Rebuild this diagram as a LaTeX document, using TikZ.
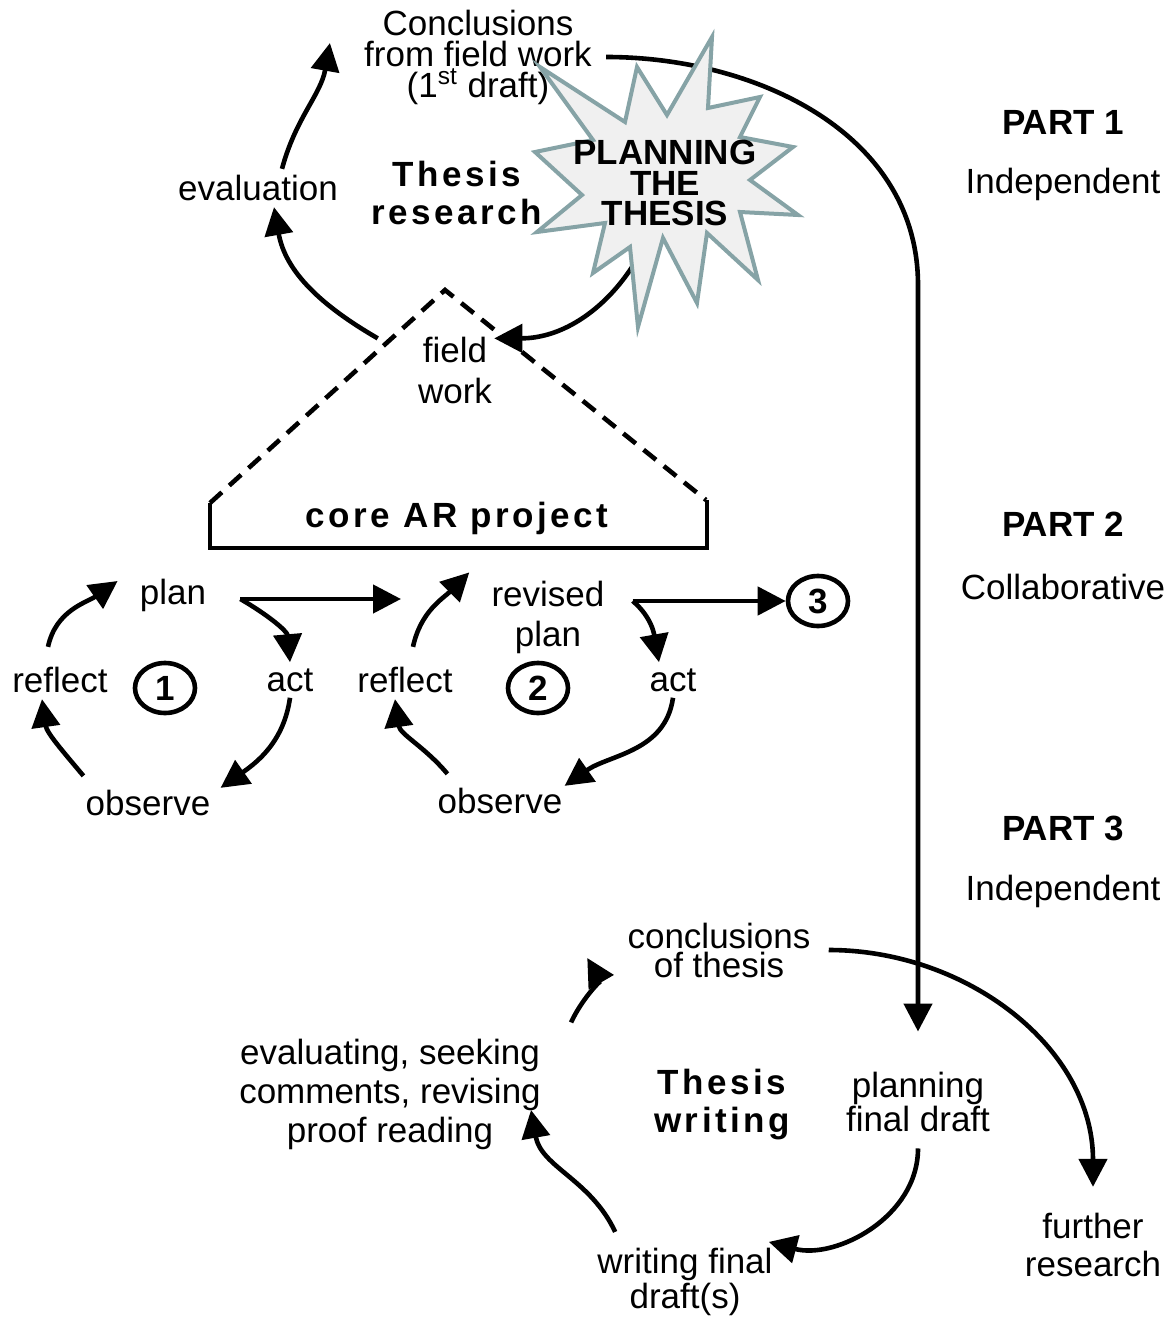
\documentclass[tikz,border=0pt]{standalone}
\usepackage{fontspec}
\setmainfont{Liberation Sans}
\usetikzlibrary{arrows.meta, shapes.geometric}
\definecolor{starline}{HTML}{86A3A6}
\definecolor{starfill}{HTML}{F0F0F0}

\begin{document}
\begin{tikzpicture}[x=0.5pt, y=0.5pt, line width=2.3pt,
	>={Triangle[length=14pt,width=14pt]},
	txt/.style={align=center, inner sep=2pt, font=\fontsize{17.5}{15.5}\selectfont},
	wide/.style={align=center, inner sep=2pt, font=\fontsize{17.5}{19}\selectfont\bfseries\addfontfeature{LetterSpace=10}},
	part/.style={inner sep=2pt, font=\fontsize{17.5}{19}\selectfont\bfseries},
	num/.style={ellipse, draw, line width=2.3pt, minimum width=30pt, minimum height=25pt, inner sep=0pt, font=\fontsize{17.5}{19}\selectfont\bfseries},
	arr/.style={->, line width=2.3pt},
	roof/.style={dash pattern=on 8pt off 5pt, line width=2.3pt},
	burststyle/.style={draw=starline, fill=starfill, line width=2pt, line join=miter}]
\useasboundingbox (0,0) rectangle (1174,-1322);

\node[txt] (concl1) at (478,-57) {Conclusions\\from field work\\(1\textsuperscript{st} draft)};
\node[txt] (eval1) at (258,-188) {evaluation};
\node[wide] (thesis1) at (457,-193) {Thesis\\research};
\node[txt, font=\fontsize{17.5}{20.5}\selectfont] (field) at (455,-370) {field\\work};
\node[wide] (core) at (457,-518) {core AR project};
\coordinate (burst) at (665,-183);

\node[txt] (plan1) at (173,-595) {plan};
\node[txt] (act1) at (290,-680) {act};
\node[txt] (obs1) at (148,-803) {observe};
\node[txt] (refl1) at (60,-680) {reflect};
\node[num] (n1) at (165,-688) {1};

\node[txt, font=\fontsize{17.5}{20}\selectfont] (plan2) at (548,-617) {revised\\plan};
\node[txt] (act2) at (673,-680) {act};
\node[txt] (obs2) at (500,-801) {observe};
\node[txt] (refl2) at (405,-680) {reflect};
\node[num] (n2) at (538,-688) {2};
\node[num] (n3) at (818,-601) {3};

\node[txt, font=\fontsize{17.5}{14.5}\selectfont] (concl2) at (719,-950) {conclusions\\of thesis};
\node[txt, font=\fontsize{17.5}{19.5}\selectfont] (evalrev) at (390,-1094) {evaluating, seeking\\comments, revising\\proof reading};
\node[wide] (thesis2) at (722,-1105) {Thesis\\writing};
\node[txt, font=\fontsize{17.5}{15}\selectfont] (plfinal) at (918,-1102) {planning\\final draft};
\node[txt, font=\fontsize{17.5}{17.5}\selectfont] (wfinal) at (685,-1282) {writing final\\draft(s)};
\node[txt, font=\fontsize{17.5}{19}\selectfont] (further) at (1093,-1245) {further\\research};

\node[part] (p1) at (1063,-122) {PART 1};
\node[txt] (m1) at (1063,-184) {Independent};
\node[part] (p2) at (1063,-524) {PART 2};
\node[txt] (m2) at (1063,-587) {Collaborative};
\node[part] (p3) at (1063,-828) {PART 3};
\node[txt] (m3) at (1063,-891) {Independent};

\coordinate (turn) at (918,-285);
\coordinate (fork1) at ([xshift=14pt,yshift=-2pt]plan1.east);
\coordinate (fork2) at ([xshift=11pt,yshift=8pt]plan2.east);

\draw[arr] ([xshift=4pt]concl1.east) to[out=0, in=90] (turn) -- ([yshift=17pt]plfinal.north);
\draw[arr] ([xshift=12pt]eval1.north) to[out=75, in=-100] ([xshift=-14pt,yshift=7pt]concl1.west);
\draw[arr] ([xshift=-17pt,yshift=-4pt]field.north west) to[out=150, in=-80] ([xshift=8pt]eval1.south);
\draw[arr] (burst) to[out=-100, in=0] ([xshift=-2pt,yshift=-4pt]field.north east);

\draw[burststyle] (712,-37) -- (708,-108) -- (760,-97) -- (740,-137) -- (793,-147) -- (750,-180)
	-- (798,-215) -- (740,-212) -- (758,-280) -- (707,-233) -- (697,-303) -- (663,-238)
	-- (638,-327) -- (630,-247) -- (593,-273) -- (605,-223) -- (537,-232) -- (582,-195)
	-- (535,-152) -- (593,-140) -- (540,-67) -- (625,-122) -- (637,-67) -- (667,-115) -- cycle;
\node[align=center, inner sep=0pt, font=\fontsize{17.5}{15.25}\selectfont\bfseries] (planning) at (burst) {PLANNING\\THE\\THESIS};

\draw[roof] (210,-503) -- (445,-290) -- (706,-500);
\draw (210,-503) -- (210,-548) -- (707,-548) -- (707,-500);

\draw[arr] ([xshift=-6pt,yshift=7pt]refl1.north) to[out=78, in=-145] ([xshift=-8pt,yshift=7pt]plan1.west);
\draw[arr] (fork1) to[out=-30, in=95] (act1.north);
\draw[arr] (act1.south) to[out=-98, in=35] ([xshift=2pt,yshift=-2pt]obs1.north east);
\draw[arr] ([xshift=2pt,yshift=4pt]obs1.north west) to[out=130, in=-82] ([xshift=-9pt]refl1.south);
\draw[arr] (fork1) -- ([xshift=-2pt]fork1 -| refl2);

\draw[arr] ([xshift=4pt,yshift=7pt]refl2.north) to[out=78, in=-135] ([xshift=-8pt,yshift=1pt]plan2.north west);
\draw[arr] (fork2) to[out=-40, in=100] ([xshift=-7pt]act2.north);
\draw[arr] (act2.south) to[out=-98, in=35] ([xshift=-2pt,yshift=-2pt]obs2.north east);
\draw[arr] ([xshift=8pt,yshift=4pt]obs2.north west) to[out=130, in=-82] ([xshift=-5pt]refl2.south);
\draw[arr] (fork2) -- (n3);

\draw[arr] ([xshift=12pt,yshift=5pt]evalrev.north east) to[out=65, in=-60] ([xshift=-17pt,yshift=-4pt]concl2.west);
\draw[arr] ([xshift=12pt,yshift=5pt]wfinal.north west) to[out=115, in=-80] ([xshift=-8pt,yshift=-8pt]evalrev.east);
\draw[arr] ([yshift=-5pt]plfinal.south) to[out=-90, in=-15] ([xshift=-5pt]wfinal.north east);
\draw[arr] ([xshift=6pt]concl2.east) to[out=0, in=90] ([yshift=10pt]further.north);
\end{tikzpicture}
\end{document}
